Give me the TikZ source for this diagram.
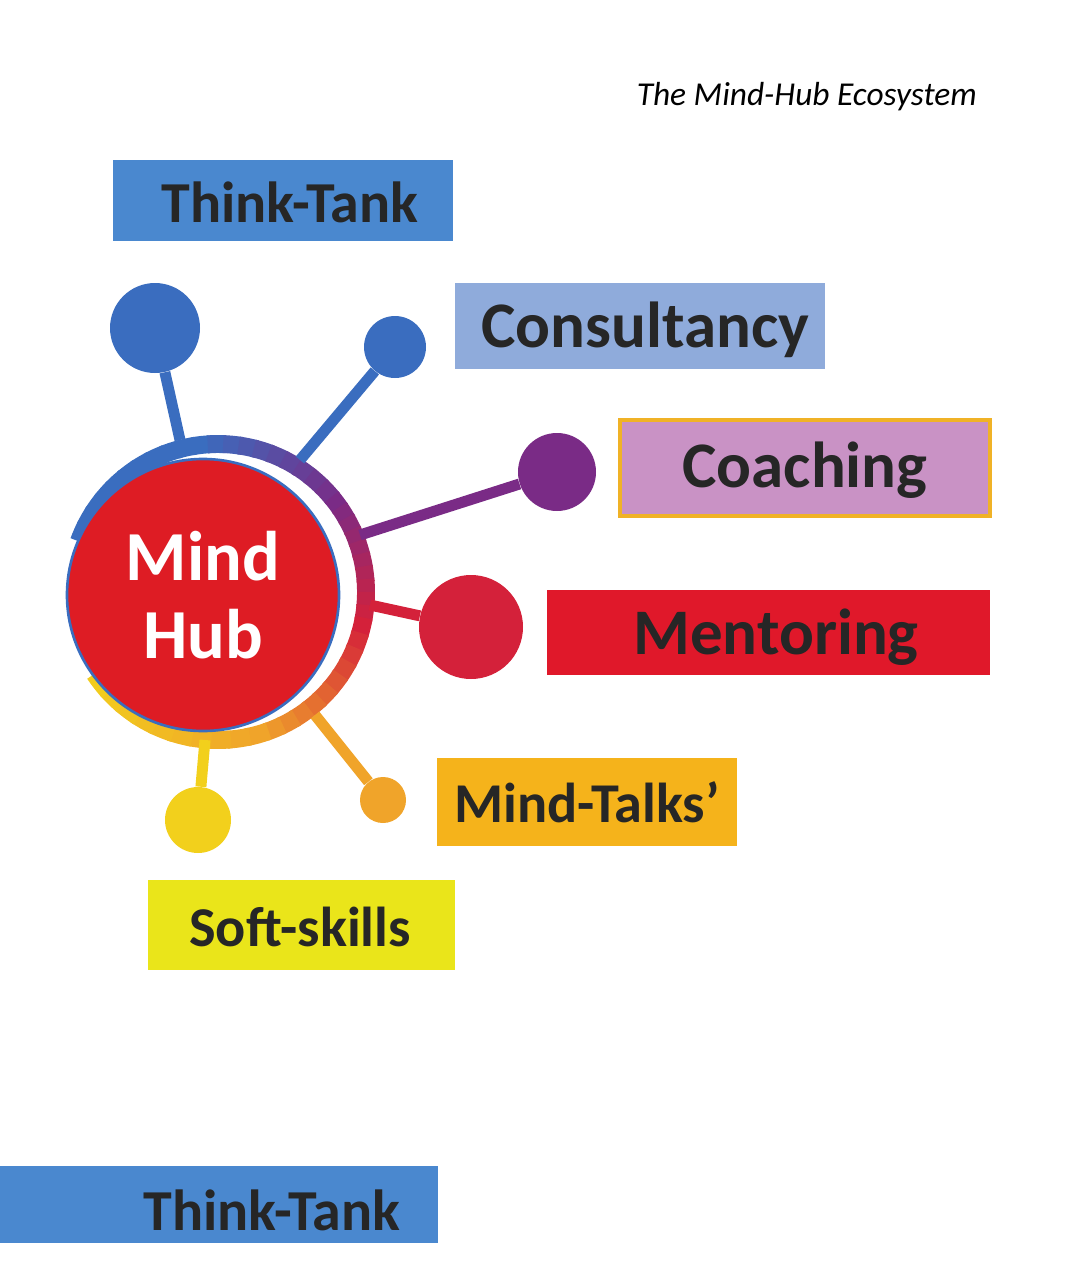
\documentclass[tikz,border=0pt]{standalone}
\usepackage{fontspec}
\setmainfont{Carlito}
\definecolor{tt}{HTML}{4A88CF}
\definecolor{cons}{HTML}{8FABDB}
\definecolor{coach}{HTML}{C992C5}
\definecolor{gold}{HTML}{F0B226}
\definecolor{ment}{HTML}{E0182A}
\definecolor{talk}{HTML}{F5B31B}
\definecolor{soft}{HTML}{EAE51A}
\definecolor{hub}{HTML}{DE1C24}
\definecolor{cB}{HTML}{3A6DBF}
\definecolor{cP}{HTML}{7A2B86}
\definecolor{cR}{HTML}{D4213A}
\definecolor{cO}{HTML}{F0A42A}
\definecolor{cY}{HTML}{F2D01C}
\begin{document}
\begin{tikzpicture}[x=0.02cm,y=0.02cm,
  lbl/.style={inner sep=0,font=\bfseries\fontsize{#1}{#1}\selectfont,text=black!85},
  spoke/.style={line width=11*0.567pt}]
\useasboundingbox (0,0) rectangle (1082,-1264);
\node[anchor=east,font=\itshape\fontsize{19}{19}\selectfont] (title) at (983,-97) {The Mind-Hub Ecosystem};
% boxes
\fill[tt] (113,-160) rectangle (453,-241);
\node[lbl=33] (t1) at (290,-202) {Think-Tank};
\fill[cons] (455,-283) rectangle (825,-369);
\node[lbl=37] (c1) at (645,-330) {Consultancy};
\draw[fill=coach,draw=gold,line width=2.2pt] (620,-420) rectangle (990,-516);
\node[lbl=37] (c2) at (805,-470) {Coaching};
\fill[ment] (547,-590) rectangle (990,-675);
\node[lbl=37] (m1) at (776,-637) {Mentoring};
\fill[talk] (437,-758) rectangle (737,-846);
\node[lbl=32] (m2) at (587,-802) {Mind-Talks’};
\fill[soft] (148,-880) rectangle (455,-970);
\node[lbl=32] (s1) at (300,-927) {Soft-skills};
\fill[tt] (0,-1166) rectangle (438,-1243);
\node[lbl=33] (t2) at (272,-1210) {Think-Tank};
% ring
\def\ring#1#2#3#4{\foreach \i in {0,...,9}{
  \pgfmathsetmacro\aa{#1+(#2-#1)*\i/10}\pgfmathsetmacro\ab{#1+(#2-#1)*(\i+1.2)/10}
  \pgfmathsetmacro\pp{100-\i*10}
  \draw[line width=18*0.567pt,color=#3!\pp!#4] ([shift={(\aa:148)}]218,-592) arc[start angle=\aa,end angle=\ab,radius=148];}}
\ring{160}{100}{cB}{cB}
\ring{100}{40}{cB}{cP}
\ring{40}{-10}{cP}{cR}
\ring{-10}{-70}{cR}{cO}
\ring{-70}{-145}{cO}{cY}
% spokes
\coordinate (r1) at (180,-440); \coordinate (r2) at (300,-460);
\coordinate (r3) at (360,-535); \coordinate (r4) at (370,-605);
\coordinate (r5) at (315,-715); \coordinate (r6) at (205,-740);
\node[circle,fill=cB,minimum size=90*0.02cm,inner sep=0] (b1) at (155,-328) {};
\node[circle,fill=cB,minimum size=62*0.02cm,inner sep=0] (b2) at (395,-347) {};
\node[circle,fill=cP,minimum size=78*0.02cm,inner sep=0] (b3) at (557,-472) {};
\node[circle,fill=cR,minimum size=104*0.02cm,inner sep=0] (b4) at (471,-627) {};
\node[circle,fill=cO,minimum size=46*0.02cm,inner sep=0] (b5) at (383,-800) {};
\node[circle,fill=cY,minimum size=66*0.02cm,inner sep=0] (b6) at (198,-820) {};
\draw[spoke,cB] (r1) -- (b1); \draw[spoke,cB] (r2) -- (b2);
\draw[spoke,cP] (r3) -- (b3); \draw[spoke,cR] (r4) -- (b4);
\draw[spoke,cO] (r5) -- (b5); \draw[spoke,cY] (r6) -- (b6);
% hub
\node[circle,fill=hub,draw=cB,line width=1.5pt,minimum size=272*0.02cm,inner sep=0,
  align=center,text=white,font=\bfseries\fontsize{40}{44}\selectfont] (hub) at (203,-595) {Mind\\Hub};
\end{tikzpicture}
\end{document}
